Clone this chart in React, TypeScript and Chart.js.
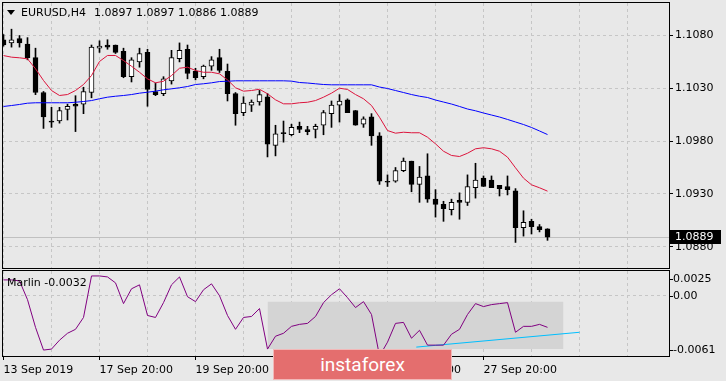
import React, { useEffect, useRef } from "react";
import { Chart, registerables } from "chart.js";

Chart.register(...registerables);

// ---------- data (H4 candles, index = bar number) ----------
const symbol = "EURUSD,H4";
const indicatorName = "Marlin";

const opens = [
  1.1076, 1.1073, 1.1077, 1.1072, 1.1059, 1.1026, 1.0999, 1.0999, 1.1010, 1.1015,
  1.1015, 1.1026, 1.1068, 1.1071, 1.1071, 1.1065, 1.1041, 1.1055, 1.1064, 1.1027,
  1.1025, 1.1037, 1.1058, 1.1067, 1.1046, 1.1041, 1.1051, 1.1059, 1.1046, 1.1025,
  1.1007, 1.1014, 1.1017, 1.1022, 1.0976, 1.0988, 1.0986, 1.0994, 1.0991, 1.0991,
  1.0995, 1.1006, 1.1014, 1.1019, 1.1009, 1.0996, 1.1003, 1.0985, 1.0942, 1.0942,
  1.0952, 1.0961, 1.0939, 1.0947, 1.0925, 1.0920, 1.0915, 1.0924, 1.0922, 1.0936,
  1.0945, 1.0943, 1.0938, 1.0937, 1.0933, 1.0898, 1.0904, 1.0899, 1.0897,
];
const highs = [
  1.1081, 1.1086, 1.1080, 1.1078, 1.1068, 1.1027, 1.1012, 1.1012, 1.1015, 1.1023,
  1.1031, 1.1071, 1.1075, 1.1076, 1.1071, 1.1068, 1.1059, 1.1068, 1.1067, 1.1035,
  1.1041, 1.1066, 1.1073, 1.1071, 1.1049, 1.1052, 1.1060, 1.1067, 1.1053, 1.1026,
  1.1022, 1.1019, 1.1028, 1.1025, 1.0995, 1.0999, 1.0996, 1.0998, 1.0994, 1.0996,
  1.1009, 1.1018, 1.1024, 1.1020, 1.1009, 1.1003, 1.1006, 1.0988, 1.0948, 1.0955,
  1.0964, 1.0961, 1.0956, 1.0968, 1.0934, 1.0923, 1.0925, 1.0931, 1.0948, 1.0959,
  1.0947, 1.0947, 1.0938, 1.0947, 1.0935, 1.0914, 1.0906, 1.0901, 1.0897,
];
const lows = [
  1.1070, 1.1069, 1.1069, 1.1057, 1.1024, 1.0992, 1.0993, 1.0997, 1.1000, 1.0989,
  1.1006, 1.1021, 1.1064, 1.1067, 1.1063, 1.1040, 1.1036, 1.1050, 1.1013, 1.1023,
  1.1023, 1.1034, 1.1055, 1.1039, 1.1038, 1.1039, 1.1047, 1.1045, 1.1018, 1.0995,
  1.1004, 1.1008, 1.1014, 1.0965, 1.0966, 1.0979, 1.0985, 1.0988, 1.0986, 1.0983,
  1.0986, 1.0993, 1.0998, 1.1007, 1.0995, 1.0993, 1.0976, 1.0939, 1.0937, 1.0941,
  1.0951, 1.0932, 1.0922, 1.0922, 1.0908, 1.0904, 1.0910, 1.0906, 1.0919, 1.0926,
  1.0937, 1.0936, 1.0928, 1.0929, 1.0884, 1.0890, 1.0892, 1.0894, 1.0886,
];
const closes = [
  1.1071, 1.1076, 1.1073, 1.1059, 1.1026, 1.1003, 1.0998, 1.1009, 1.1013, 1.1013,
  1.1027, 1.1069, 1.1070, 1.1069, 1.1064, 1.1041, 1.1057, 1.1063, 1.1029, 1.1024,
  1.1039, 1.1059, 1.1066, 1.1044, 1.1040, 1.1051, 1.1057, 1.1047, 1.1025, 1.1006,
  1.1016, 1.1017, 1.1024, 1.0977, 1.0987, 1.0987, 1.0993, 1.0991, 1.0989, 1.0994,
  1.1007, 1.1014, 1.1018, 1.1007, 1.0995, 1.1001, 1.0985, 1.0942, 1.0941, 1.0952,
  1.0961, 1.0939, 1.0946, 1.0925, 1.0920, 1.0916, 1.0922, 1.0922, 1.0937, 1.0943,
  1.0937, 1.0936, 1.0935, 1.0934, 1.0898, 1.0903, 1.0899, 1.0896, 1.0889,
];
const maFast = [
  1.1061, 1.10595, 1.10589, 1.10579, 1.10485, 1.10374, 1.10279, 1.10232, 1.10241, 1.10279,
  1.10336, 1.10421, 1.10554, 1.10611, 1.10611, 1.10563, 1.10509, 1.10452, 1.1039, 1.10352,
  1.10367, 1.10421, 1.1049, 1.105, 1.10469, 1.10452, 1.10452, 1.10437, 1.1038, 1.10305,
  1.10273, 1.10279, 1.10291, 1.10248, 1.10191, 1.10153, 1.10153, 1.10163, 1.10168, 1.10184,
  1.10216, 1.10254, 1.10301, 1.10289, 1.10241, 1.10201, 1.10137, 1.10026, 1.099, 1.09875,
  1.09884, 1.09879, 1.09879, 1.09837, 1.09774, 1.09704, 1.09664, 1.09654, 1.09685, 1.09727,
  1.09737, 1.09727, 1.09704, 1.09648, 1.09547, 1.09449, 1.09386, 1.09358, 1.09326,
];
const maSlow = [
  1.10128, 1.10137, 1.10147, 1.10159, 1.10163, 1.10163, 1.10163, 1.10163, 1.10163, 1.10168,
  1.10175, 1.10184, 1.10201, 1.10216, 1.10225, 1.10232, 1.10241, 1.10254, 1.10263, 1.10273,
  1.10286, 1.10295, 1.10305, 1.10317, 1.10336, 1.10343, 1.10352, 1.10364, 1.10367, 1.10371,
  1.10371, 1.10371, 1.10371, 1.10371, 1.10371, 1.10371, 1.10368, 1.10355, 1.1035, 1.10343,
  1.10336, 1.10333, 1.10333, 1.10333, 1.10333, 1.10333, 1.10333, 1.10312, 1.10298, 1.10279,
  1.1026, 1.10241, 1.10225, 1.10213, 1.10189, 1.1017, 1.10151, 1.10128, 1.10104, 1.10087,
  1.10066, 1.10047, 1.10028, 1.10005, 1.09981, 1.09957, 1.09929, 1.09896, 1.09862,
];
const marlin = [
  0.0016, 0.0016, 0.0015, -0.0004, -0.0032, -0.0055, -0.0054, -0.0045, -0.0038, -0.0034,
  -0.0022, 0.0020, 0.0020, 0.0019, 0.0013, -0.0008, 0.0007, 0.0011, -0.0020, -0.0022,
  -0.0007, 0.0011, 0.0019, -0.0001, -0.0006, 0.0006, 0.0012, 0.0000, -0.0020, -0.0034,
  -0.0022, -0.0021, -0.0013, -0.0054, -0.0041, -0.0038, -0.0031, -0.0029, -0.0028, -0.0021,
  -0.0007, 0.0001, 0.0007, -0.0002, -0.0012, -0.0006, -0.0019, -0.0061, -0.0047, -0.0028,
  -0.0027, -0.0043, -0.0035, -0.0050, -0.0050, -0.0050, -0.0039, -0.0034, -0.0019, -0.0008,
  -0.0011, -0.0009, -0.0008, -0.0007, -0.0037, -0.0031, -0.0031, -0.0029, -0.0032,
];
const trendBars = [51.6, 72];
const trendValues = [-0.0052, -0.0037];
const zoneBars = [33, 70];
const zoneValues = [-0.0006, -0.0054];

const gridBars = [0, 6, 12, 18, 24, 30, 36, 42, 48, 54, 60, 66, 72, 78];
const timeTickBars = [0, 12, 24, 36, 48, 60];
const timeTickLabels = [
  "13 Sep 2019",
  "17 Sep 20:00",
  "19 Sep 20:00",
  "23 Sep 20:00",
  "25 Sep 20:00",
  "27 Sep 20:00",
];
const priceTicks = [1.088, 1.093, 1.098, 1.103, 1.108];
const subTickValues = [0.0025, 0, -0.0061];
const subTickLabels = ["0.0025", "0.00", "-0.0061"];

// ---------- styling ----------
const FONT = "'DejaVu Sans', sans-serif";
const BG = "#e8e8e8";
const GRID = "#c6c6c6";
const X_MIN = -0.0625;
const X_MAX = 83.1875;
const PRICE_MIN = 1.08598;
const PRICE_MAX = 1.11108;
const SUB_MIN = -0.0061;
const SUB_MAX = 0.0025;

const framePlugin = {
  id: "frame",
  afterDraw(chart: any) {
    const { ctx, chartArea: a } = chart;
    ctx.save();
    ctx.strokeStyle = "#000";
    ctx.lineWidth = 1;
    ctx.strokeRect(a.left - 0.5, a.top - 0.5, a.right - a.left + 1, a.bottom - a.top + 1);
    ctx.restore();
  },
};

const priceLinePlugin = {
  id: "priceLine",
  beforeDatasetsDraw(chart: any) {
    const { ctx, chartArea: a, scales } = chart;
    const last = closes[closes.length - 1];
    const py = Math.floor(scales.y.getPixelForValue(last)) + 0.5;
    ctx.save();
    ctx.strokeStyle = "#c0c0c0";
    ctx.lineWidth = 1;
    ctx.beginPath();
    ctx.moveTo(a.left, py);
    ctx.lineTo(a.right, py);
    ctx.stroke();
    ctx.restore();
  },
  afterDraw(chart: any) {
    const { ctx, chartArea: a, scales } = chart;
    const last = closes[closes.length - 1];
    const py = Math.round(scales.y.getPixelForValue(last));
    ctx.save();
    ctx.fillStyle = "#000";
    ctx.fillRect(a.right + 1, py - 7, 51, 14);
    ctx.fillStyle = "#fff";
    ctx.font = `11px ${FONT}`;
    ctx.textBaseline = "middle";
    ctx.textAlign = "left";
    ctx.fillText(last.toFixed(4), a.right + 6, py);
    ctx.restore();
  },
};

const subLabelPlugin = {
  id: "subLabels",
  afterDraw(chart: any) {
    const { ctx, chartArea: a, scales } = chart;
    ctx.save();
    ctx.font = `11px ${FONT}`;
    ctx.textBaseline = "middle";
    ctx.textAlign = "left";
    ctx.fillStyle = "#000";
    ctx.strokeStyle = "#000";
    ctx.lineWidth = 1;
    subTickValues.forEach((v, i) => {
      let py = scales.y.getPixelForValue(v);
      py = Math.min(Math.max(py, a.top + 8), a.bottom - 6);
      const ly = Math.round(py) + 0.5;
      ctx.beginPath();
      ctx.moveTo(a.right, ly);
      ctx.lineTo(a.right + 4, ly);
      ctx.stroke();
      ctx.fillText(subTickLabels[i], a.right + 4, py);
    });
    ctx.restore();
  },
};

function xScale(showLabels: boolean) {
  return {
    type: "linear",
    min: X_MIN,
    max: X_MAX,
    bounds: "data",
    offset: false,
    afterBuildTicks: (s: any) => {
      s.ticks = gridBars.map((v) => ({ value: v }));
    },
    afterFit: (s: any) => {
      s.height = showLabels ? 25 : 0;
      s.paddingLeft = 0;
      s.paddingRight = 0;
    },
    ticks: {
      display: showLabels,
      autoSkip: false,
      maxRotation: 0,
      minRotation: 0,
      align: "start",
      padding: 4,
      color: "#000",
      font: { family: FONT, size: 11 },
      callback: (v: any) => {
        const i = timeTickBars.indexOf(Number(v));
        return i >= 0 ? timeTickLabels[i] : "";
      },
    },
    grid: {
      color: GRID,
      lineWidth: 1,
      offset: false,
      drawTicks: showLabels,
      tickLength: 4,
      tickWidth: 1,
      tickBorderDash: [],
      tickColor: (ctx: any) =>
        ctx.tick && timeTickBars.includes(ctx.tick.value) ? "#000" : "rgba(0,0,0,0)",
    },
    border: { display: false, dash: [3, 3] },
  };
}

export default function App() {
  const mainRef = useRef<HTMLCanvasElement>(null);
  const subRef = useRef<HTMLCanvasElement>(null);

  useEffect(() => {
    const idx = opens.map((_, i) => i);
    const main = new Chart(mainRef.current as HTMLCanvasElement, {
      type: "line",
      data: {
        datasets: [
          {
            type: "line",
            label: "MA fast",
            data: maFast.map((v, i) => ({ x: i, y: v })),
            borderColor: "#dc143c",
            borderWidth: 1,
            pointRadius: 0,
            tension: 0,
            order: 0,
          },
          {
            type: "line",
            label: "MA slow",
            data: maSlow.map((v, i) => ({ x: i, y: v })),
            borderColor: "#0000ff",
            borderWidth: 1,
            pointRadius: 0,
            tension: 0,
            order: 0,
          },
          {
            type: "bar",
            label: "body",
            data: idx.map((i) => ({ x: i, y: [opens[i], closes[i]] })),
            backgroundColor: idx.map((i) => (closes[i] >= opens[i] ? "#ffffff" : "#000000")),
            borderColor: "#000",
            borderWidth: 1,
            borderSkipped: false,
            barThickness: 5,
            grouped: false,
            order: 1,
          },
          {
            type: "bar",
            label: "wick",
            data: idx.map((i) => ({ x: i, y: [lows[i], highs[i]] })),
            backgroundColor: "#000",
            borderWidth: 0,
            barThickness: 1,
            grouped: false,
            order: 2,
          },
        ] as any,
      },
      options: {
        responsive: false,
        animation: false,
        events: [],
        layout: { padding: { left: 3, top: 3, right: 0, bottom: 1 } },
        plugins: { legend: { display: false }, tooltip: { enabled: false } },
        scales: {
          x: xScale(false) as any,
          y: {
            type: "linear",
            position: "right",
            min: PRICE_MIN,
            max: PRICE_MAX,
            bounds: "data",
            afterBuildTicks: (s: any) => {
              s.ticks = priceTicks.map((v) => ({ value: v }));
            },
            afterFit: (s: any) => {
              s.width = 57;
              s.paddingTop = 0;
              s.paddingBottom = 0;
            },
            ticks: {
              color: "#000",
              padding: 2,
              font: { family: FONT, size: 11 },
              callback: (v: any) => Number(v).toFixed(4),
            },
            grid: {
              color: GRID,
              lineWidth: 1,
              tickLength: 4,
              tickWidth: 1,
              tickColor: "#000",
              tickBorderDash: [],
            },
            border: { display: false, dash: [3, 3] },
          } as any,
        },
      },
      plugins: [priceLinePlugin, framePlugin],
    });

    const sub = new Chart(subRef.current as HTMLCanvasElement, {
      type: "line",
      data: {
        datasets: [
          {
            label: "zone",
            data: [
              { x: zoneBars[0], y: zoneValues[0] },
              { x: zoneBars[1], y: zoneValues[0] },
            ],
            borderWidth: 0,
            borderColor: "rgba(0,0,0,0)",
            backgroundColor: "#d4d4d4",
            fill: { value: zoneValues[1] },
            pointRadius: 0,
            order: 3,
          },
          {
            label: "trend",
            data: trendBars.map((x, i) => ({ x, y: trendValues[i] })),
            borderColor: "#00bfff",
            borderWidth: 1,
            pointRadius: 0,
            order: 2,
          },
          {
            label: indicatorName,
            data: marlin.map((v, i) => ({ x: i, y: v })),
            borderColor: "#800080",
            borderWidth: 1,
            pointRadius: 0,
            tension: 0,
            order: 1,
          },
        ] as any,
      },
      options: {
        responsive: false,
        animation: false,
        events: [],
        layout: { padding: { left: 3, top: 3, right: 0, bottom: 0 } },
        plugins: { legend: { display: false }, tooltip: { enabled: false } },
        scales: {
          x: xScale(true) as any,
          y: {
            type: "linear",
            position: "right",
            min: SUB_MIN,
            max: SUB_MAX,
            bounds: "data",
            afterBuildTicks: (s: any) => {
              s.ticks = [{ value: 0 }];
            },
            afterFit: (s: any) => {
              s.width = 57;
              s.paddingTop = 0;
              s.paddingBottom = 0;
            },
            ticks: { display: false },
            grid: { color: GRID, lineWidth: 1, drawTicks: false },
            border: { display: false, dash: [3, 3] },
          } as any,
        },
      },
      plugins: [framePlugin, subLabelPlugin],
    });

    return () => {
      main.destroy();
      sub.destroy();
    };
  }, []);

  const n = closes.length - 1;
  const ohlc = [opens[n], highs[n], lows[n], closes[n]].map((v) => v.toFixed(4)).join(" ");
  const textStyle: React.CSSProperties = {
    position: "absolute",
    fontFamily: FONT,
    fontSize: 11,
    lineHeight: "13px",
    color: "#000",
    whiteSpace: "pre",
  };

  return (
    <div
      style={{
        position: "absolute",
        left: 0,
        top: 0,
        width: 726,
        height: 381,
        background: BG,
        overflow: "hidden",
      }}
    >
      <canvas
        ref={mainRef}
        width={726}
        height={269}
        style={{ position: "absolute", left: 0, top: 0, width: 726, height: 269 }}
      />
      <canvas
        ref={subRef}
        width={726}
        height={113}
        style={{ position: "absolute", left: 0, top: 268, width: 726, height: 113 }}
      />
      <div
        style={{
          position: "absolute",
          left: 7,
          top: 10,
          width: 0,
          height: 0,
          borderLeft: "4px solid transparent",
          borderRight: "4px solid transparent",
          borderTop: "5px solid #000",
        }}
      />
      <div style={{ ...textStyle, left: 21, top: 6 }}>{symbol}</div>
      <div style={{ ...textStyle, left: 94, top: 6 }}>{ohlc}</div>
      <div style={{ ...textStyle, left: 7, top: 276 }}>
        {`${indicatorName} ${marlin[marlin.length - 1].toFixed(4)}`}
      </div>
      <div
        style={{
          position: "absolute",
          left: 273,
          top: 349,
          width: 177,
          height: 29,
          background: "#e46e6e",
          border: "1px solid #f2b8b8",
          color: "#fff",
          fontFamily: "Roboto, sans-serif",
          fontSize: 19,
          lineHeight: "29px",
          textAlign: "center",
        }}
      >
        instaforex
      </div>
    </div>
  );
}
